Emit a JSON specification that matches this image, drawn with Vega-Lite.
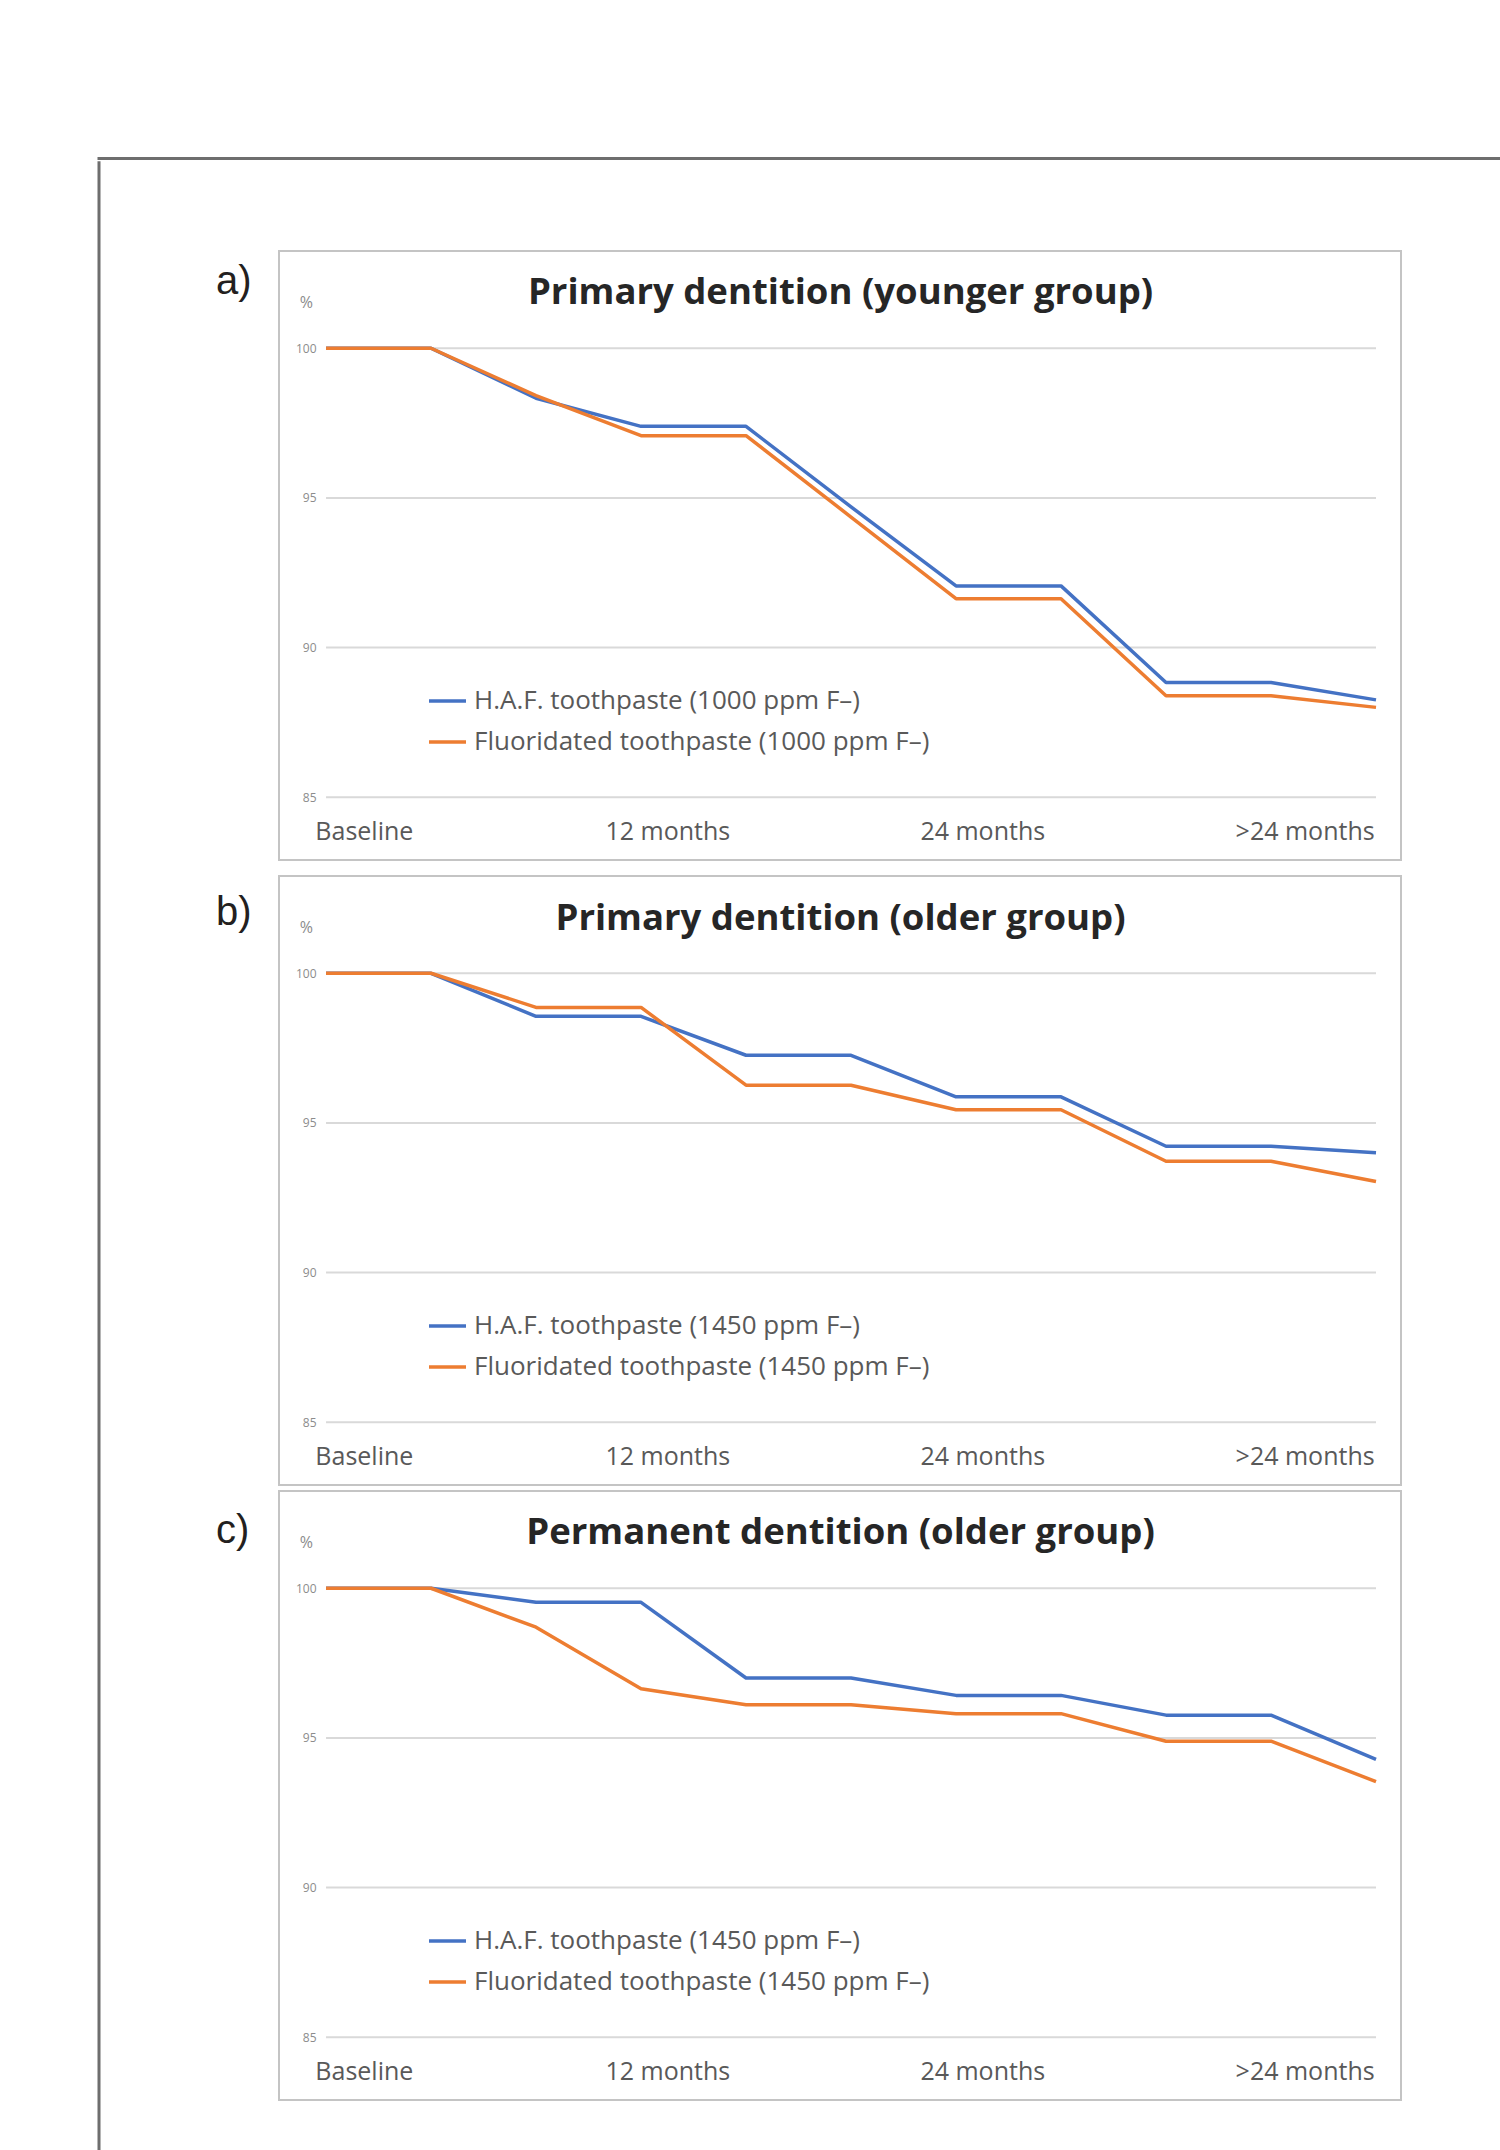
{
  "$schema": "https://vega.github.io/schema/vega-lite/v6.json",
  "background": "white",
  "padding": {"left": 97, "top": 156.5, "right": 0, "bottom": 0},
  "config": {
    "view": {"stroke": "#c4c4c4", "strokeWidth": 2},
    "font": "Open Sans"
  },
  "datasets": {
    "grid": [{"g": 85}, {"g": 90}, {"g": 95}, {"g": 100}],
    "a": [
      {"i": 0, "s": "H.A.F. toothpaste (1000 ppm F–)", "v": 100},
      {"i": 1, "s": "H.A.F. toothpaste (1000 ppm F–)", "v": 100},
      {"i": 2, "s": "H.A.F. toothpaste (1000 ppm F–)", "v": 98.33},
      {"i": 3, "s": "H.A.F. toothpaste (1000 ppm F–)", "v": 97.39},
      {"i": 4, "s": "H.A.F. toothpaste (1000 ppm F–)", "v": 97.39},
      {"i": 5, "s": "H.A.F. toothpaste (1000 ppm F–)", "v": 94.7},
      {"i": 6, "s": "H.A.F. toothpaste (1000 ppm F–)", "v": 92.06},
      {"i": 7, "s": "H.A.F. toothpaste (1000 ppm F–)", "v": 92.06},
      {"i": 8, "s": "H.A.F. toothpaste (1000 ppm F–)", "v": 88.83},
      {"i": 9, "s": "H.A.F. toothpaste (1000 ppm F–)", "v": 88.83},
      {"i": 10, "s": "H.A.F. toothpaste (1000 ppm F–)", "v": 88.25},
      {"i": 0, "s": "Fluoridated toothpaste (1000 ppm F–)", "v": 100},
      {"i": 1, "s": "Fluoridated toothpaste (1000 ppm F–)", "v": 100},
      {"i": 2, "s": "Fluoridated toothpaste (1000 ppm F–)", "v": 98.42},
      {"i": 3, "s": "Fluoridated toothpaste (1000 ppm F–)", "v": 97.08},
      {"i": 4, "s": "Fluoridated toothpaste (1000 ppm F–)", "v": 97.08},
      {"i": 5, "s": "Fluoridated toothpaste (1000 ppm F–)", "v": 94.36},
      {"i": 6, "s": "Fluoridated toothpaste (1000 ppm F–)", "v": 91.63},
      {"i": 7, "s": "Fluoridated toothpaste (1000 ppm F–)", "v": 91.63},
      {"i": 8, "s": "Fluoridated toothpaste (1000 ppm F–)", "v": 88.39},
      {"i": 9, "s": "Fluoridated toothpaste (1000 ppm F–)", "v": 88.39},
      {"i": 10, "s": "Fluoridated toothpaste (1000 ppm F–)", "v": 88.0}
    ],
    "b": [
      {"i": 0, "s": "H.A.F. toothpaste (1450 ppm F–)", "v": 100},
      {"i": 1, "s": "H.A.F. toothpaste (1450 ppm F–)", "v": 100},
      {"i": 2, "s": "H.A.F. toothpaste (1450 ppm F–)", "v": 98.56},
      {"i": 3, "s": "H.A.F. toothpaste (1450 ppm F–)", "v": 98.56},
      {"i": 4, "s": "H.A.F. toothpaste (1450 ppm F–)", "v": 97.26},
      {"i": 5, "s": "H.A.F. toothpaste (1450 ppm F–)", "v": 97.26},
      {"i": 6, "s": "H.A.F. toothpaste (1450 ppm F–)", "v": 95.87},
      {"i": 7, "s": "H.A.F. toothpaste (1450 ppm F–)", "v": 95.87},
      {"i": 8, "s": "H.A.F. toothpaste (1450 ppm F–)", "v": 94.22},
      {"i": 9, "s": "H.A.F. toothpaste (1450 ppm F–)", "v": 94.22},
      {"i": 10, "s": "H.A.F. toothpaste (1450 ppm F–)", "v": 94.0},
      {"i": 0, "s": "Fluoridated toothpaste (1450 ppm F–)", "v": 100},
      {"i": 1, "s": "Fluoridated toothpaste (1450 ppm F–)", "v": 100},
      {"i": 2, "s": "Fluoridated toothpaste (1450 ppm F–)", "v": 98.86},
      {"i": 3, "s": "Fluoridated toothpaste (1450 ppm F–)", "v": 98.86},
      {"i": 4, "s": "Fluoridated toothpaste (1450 ppm F–)", "v": 96.26},
      {"i": 5, "s": "Fluoridated toothpaste (1450 ppm F–)", "v": 96.26},
      {"i": 6, "s": "Fluoridated toothpaste (1450 ppm F–)", "v": 95.44},
      {"i": 7, "s": "Fluoridated toothpaste (1450 ppm F–)", "v": 95.44},
      {"i": 8, "s": "Fluoridated toothpaste (1450 ppm F–)", "v": 93.72},
      {"i": 9, "s": "Fluoridated toothpaste (1450 ppm F–)", "v": 93.72},
      {"i": 10, "s": "Fluoridated toothpaste (1450 ppm F–)", "v": 93.04}
    ],
    "c": [
      {"i": 0, "s": "H.A.F. toothpaste (1450 ppm F–)", "v": 100},
      {"i": 1, "s": "H.A.F. toothpaste (1450 ppm F–)", "v": 100},
      {"i": 2, "s": "H.A.F. toothpaste (1450 ppm F–)", "v": 99.53},
      {"i": 3, "s": "H.A.F. toothpaste (1450 ppm F–)", "v": 99.53},
      {"i": 4, "s": "H.A.F. toothpaste (1450 ppm F–)", "v": 97.0},
      {"i": 5, "s": "H.A.F. toothpaste (1450 ppm F–)", "v": 97.0},
      {"i": 6, "s": "H.A.F. toothpaste (1450 ppm F–)", "v": 96.42},
      {"i": 7, "s": "H.A.F. toothpaste (1450 ppm F–)", "v": 96.42},
      {"i": 8, "s": "H.A.F. toothpaste (1450 ppm F–)", "v": 95.76},
      {"i": 9, "s": "H.A.F. toothpaste (1450 ppm F–)", "v": 95.76},
      {"i": 10, "s": "H.A.F. toothpaste (1450 ppm F–)", "v": 94.28},
      {"i": 0, "s": "Fluoridated toothpaste (1450 ppm F–)", "v": 100},
      {"i": 1, "s": "Fluoridated toothpaste (1450 ppm F–)", "v": 100},
      {"i": 2, "s": "Fluoridated toothpaste (1450 ppm F–)", "v": 98.7},
      {"i": 3, "s": "Fluoridated toothpaste (1450 ppm F–)", "v": 96.64},
      {"i": 4, "s": "Fluoridated toothpaste (1450 ppm F–)", "v": 96.11},
      {"i": 5, "s": "Fluoridated toothpaste (1450 ppm F–)", "v": 96.11},
      {"i": 6, "s": "Fluoridated toothpaste (1450 ppm F–)", "v": 95.81},
      {"i": 7, "s": "Fluoridated toothpaste (1450 ppm F–)", "v": 95.81},
      {"i": 8, "s": "Fluoridated toothpaste (1450 ppm F–)", "v": 94.89},
      {"i": 9, "s": "Fluoridated toothpaste (1450 ppm F–)", "v": 94.89},
      {"i": 10, "s": "Fluoridated toothpaste (1450 ppm F–)", "v": 93.54}
    ]
  },
  "spacing": 0,
  "resolve": {"scale": {"color": "independent"}, "legend": {"color": "independent"}},
  "vconcat": [
    {
      "width": 1420,
      "height": 0.01,
      "view": {"stroke": "#6e6e6e", "strokeWidth": 3, "fill": null},
      "data": {"values": []},
      "mark": {"type": "rule"},
      "encoding": {}
    },
    {
      "center": true,
      "spacing": 114,
      "resolve": {"scale": {"color": "independent"}, "legend": {"color": "independent"}},
      "hconcat": [
        {
          "width": 0.01,
          "height": 2025,
          "view": {"stroke": "#6e6e6e", "strokeWidth": 3, "fill": null},
          "data": {"values": []},
          "mark": {"type": "rule"},
          "encoding": {}
        },
        {
          "spacing": 14,
          "resolve": {"scale": {"color": "independent"}, "legend": {"color": "independent"}},
          "vconcat": [
            {
              "width": 1122,
              "height": 609,
              "layer": [
                {
                  "data": {"name": "grid"},
                  "mark": {"type": "rule", "color": "#d9d9d9", "strokeWidth": 2},
                  "encoding": {
                    "x": {"datum": 0, "type": "quantitative", "scale": {"domain": [-0.448, 10.238], "nice": false, "zero": false},
                      "axis": {"values": [0.36, 3.25, 6.25, 9.32], "labelExpr": "datum.value < 1 ? 'Baseline' : datum.value < 4 ? '12 months' : datum.value < 7 ? '24 months' : '>24 months'", "domain": false, "ticks": false, "grid": false, "offset": -29, "labelPadding": 0, "labelBaseline": "middle", "labelFontSize": 25, "labelColor": "#595959", "labelFlush": false, "labelOverlap": false, "title": null}},
                    "x2": {"datum": 10},
                    "y": {"field": "g", "type": "quantitative", "scale": {"domain": [82.9, 103.25], "nice": false, "zero": false},
                      "axis": {"values": [85, 90, 95, 100], "domain": false, "ticks": false, "grid": false, "offset": -37, "labelPadding": 0, "labelFontSize": 12, "labelColor": "#8c8c8c", "title": null}}
                  }
                },
                {
                  "data": {"name": "a"},
                  "mark": {"type": "line", "strokeWidth": 3.5, "strokeJoin": "round"},
                  "encoding": {
                    "x": {"field": "i", "type": "quantitative"},
                    "y": {"field": "v", "type": "quantitative"},
                    "color": {"field": "s", "type": "nominal",
                      "scale": {"domain": ["H.A.F. toothpaste (1000 ppm F–)", "Fluoridated toothpaste (1000 ppm F–)"], "range": ["#4472C4", "#ED7D31"]},
                      "legend": {"orient": "none", "legendX": 148, "legendY": 429.5, "title": null, "symbolType": "stroke", "symbolSize": 1369, "symbolStrokeWidth": 3.5, "labelFontSize": 26, "labelColor": "#595959", "labelOffset": 6, "rowPadding": 7, "padding": 0, "labelLimit": 0}}
                  }
                },
                {
                  "data": {"values": [{"t": "Primary dentition (younger group)"}]},
                  "mark": {"type": "text", "fontWeight": "bold", "fontSize": 36.5, "color": "#262626", "baseline": "middle"},
                  "encoding": {"x": {"datum": 4.9}, "y": {"datum": 101.83}, "text": {"field": "t"}}
                },
                {
                  "data": {"values": [{"t": "%"}]},
                  "mark": {"type": "text", "fontSize": 16, "color": "#8c8c8c", "baseline": "middle"},
                  "encoding": {"x": {"datum": -0.187}, "y": {"datum": 101.51}, "text": {"field": "t"}}
                },
                {
                  "data": {"values": [{"t": "a)"}]},
                  "mark": {"type": "text", "font": "Liberation Sans", "fontSize": 40, "color": "#231f20", "baseline": "middle", "align": "left"},
                  "encoding": {"x": {"datum": -1.048}, "y": {"datum": 102.2}, "text": {"field": "t"}}
                }
              ]
            },
            {
              "spacing": 4,
              "resolve": {"scale": {"color": "independent"}, "legend": {"color": "independent"}},
              "vconcat": [
                {
                  "width": 1122,
                  "height": 609,
                  "layer": [
                    {
                      "data": {"name": "grid"},
                      "mark": {"type": "rule", "color": "#d9d9d9", "strokeWidth": 2},
                      "encoding": {
                        "x": {"datum": 0, "type": "quantitative", "scale": {"domain": [-0.448, 10.238], "nice": false, "zero": false},
                          "axis": {"values": [0.36, 3.25, 6.25, 9.32], "labelExpr": "datum.value < 1 ? 'Baseline' : datum.value < 4 ? '12 months' : datum.value < 7 ? '24 months' : '>24 months'", "domain": false, "ticks": false, "grid": false, "offset": -29, "labelPadding": 0, "labelBaseline": "middle", "labelFontSize": 25, "labelColor": "#595959", "labelFlush": false, "labelOverlap": false, "title": null}},
                        "x2": {"datum": 10},
                        "y": {"field": "g", "type": "quantitative", "scale": {"domain": [82.9, 103.25], "nice": false, "zero": false},
                          "axis": {"values": [85, 90, 95, 100], "domain": false, "ticks": false, "grid": false, "offset": -37, "labelPadding": 0, "labelFontSize": 12, "labelColor": "#8c8c8c", "title": null}}
                      }
                    },
                    {
                      "data": {"name": "b"},
                      "mark": {"type": "line", "strokeWidth": 3.5, "strokeJoin": "round"},
                      "encoding": {
                        "x": {"field": "i", "type": "quantitative"},
                        "y": {"field": "v", "type": "quantitative"},
                        "color": {"field": "s", "type": "nominal",
                          "scale": {"domain": ["H.A.F. toothpaste (1450 ppm F–)", "Fluoridated toothpaste (1450 ppm F–)"], "range": ["#4472C4", "#ED7D31"]},
                          "legend": {"orient": "none", "legendX": 148, "legendY": 429.5, "title": null, "symbolType": "stroke", "symbolSize": 1369, "symbolStrokeWidth": 3.5, "labelFontSize": 26, "labelColor": "#595959", "labelOffset": 6, "rowPadding": 7, "padding": 0, "labelLimit": 0}}
                      }
                    },
                    {
                      "data": {"values": [{"t": "Primary dentition (older group)"}]},
                      "mark": {"type": "text", "fontWeight": "bold", "fontSize": 36.5, "color": "#262626", "baseline": "middle"},
                      "encoding": {"x": {"datum": 4.9}, "y": {"datum": 101.81}, "text": {"field": "t"}}
                    },
                    {
                      "data": {"values": [{"t": "%"}]},
                      "mark": {"type": "text", "fontSize": 16, "color": "#8c8c8c", "baseline": "middle"},
                      "encoding": {"x": {"datum": -0.187}, "y": {"datum": 101.51}, "text": {"field": "t"}}
                    },
                    {
                      "data": {"values": [{"t": "b)"}]},
                      "mark": {"type": "text", "font": "Liberation Sans", "fontSize": 40, "color": "#231f20", "baseline": "middle", "align": "left"},
                      "encoding": {"x": {"datum": -1.048}, "y": {"datum": 102.0}, "text": {"field": "t"}}
                    }
                  ]
                },
                {
                  "width": 1122,
                  "height": 609,
                  "layer": [
                    {
                      "data": {"name": "grid"},
                      "mark": {"type": "rule", "color": "#d9d9d9", "strokeWidth": 2},
                      "encoding": {
                        "x": {"datum": 0, "type": "quantitative", "scale": {"domain": [-0.448, 10.238], "nice": false, "zero": false},
                          "axis": {"values": [0.36, 3.25, 6.25, 9.32], "labelExpr": "datum.value < 1 ? 'Baseline' : datum.value < 4 ? '12 months' : datum.value < 7 ? '24 months' : '>24 months'", "domain": false, "ticks": false, "grid": false, "offset": -29, "labelPadding": 0, "labelBaseline": "middle", "labelFontSize": 25, "labelColor": "#595959", "labelFlush": false, "labelOverlap": false, "title": null}},
                        "x2": {"datum": 10},
                        "y": {"field": "g", "type": "quantitative", "scale": {"domain": [82.9, 103.25], "nice": false, "zero": false},
                          "axis": {"values": [85, 90, 95, 100], "domain": false, "ticks": false, "grid": false, "offset": -37, "labelPadding": 0, "labelFontSize": 12, "labelColor": "#8c8c8c", "title": null}}
                      }
                    },
                    {
                      "data": {"name": "c"},
                      "mark": {"type": "line", "strokeWidth": 3.5, "strokeJoin": "round"},
                      "encoding": {
                        "x": {"field": "i", "type": "quantitative"},
                        "y": {"field": "v", "type": "quantitative"},
                        "color": {"field": "s", "type": "nominal",
                          "scale": {"domain": ["H.A.F. toothpaste (1450 ppm F–)", "Fluoridated toothpaste (1450 ppm F–)"], "range": ["#4472C4", "#ED7D31"]},
                          "legend": {"orient": "none", "legendX": 148, "legendY": 429.5, "title": null, "symbolType": "stroke", "symbolSize": 1369, "symbolStrokeWidth": 3.5, "labelFontSize": 26, "labelColor": "#595959", "labelOffset": 6, "rowPadding": 7, "padding": 0, "labelLimit": 0}}
                      }
                    },
                    {
                      "data": {"values": [{"t": "Permanent dentition (older group)"}]},
                      "mark": {"type": "text", "fontWeight": "bold", "fontSize": 36.5, "color": "#262626", "baseline": "middle"},
                      "encoding": {"x": {"datum": 4.9}, "y": {"datum": 101.84}, "text": {"field": "t"}}
                    },
                    {
                      "data": {"values": [{"t": "%"}]},
                      "mark": {"type": "text", "fontSize": 16, "color": "#8c8c8c", "baseline": "middle"},
                      "encoding": {"x": {"datum": -0.187}, "y": {"datum": 101.51}, "text": {"field": "t"}}
                    },
                    {
                      "data": {"values": [{"t": "c)"}]},
                      "mark": {"type": "text", "font": "Liberation Sans", "fontSize": 40, "color": "#231f20", "baseline": "middle", "align": "left"},
                      "encoding": {"x": {"datum": -1.048}, "y": {"datum": 101.93}, "text": {"field": "t"}}
                    }
                  ]
                }
              ]
            }
          ]
        }
      ]
    }
  ]
}
